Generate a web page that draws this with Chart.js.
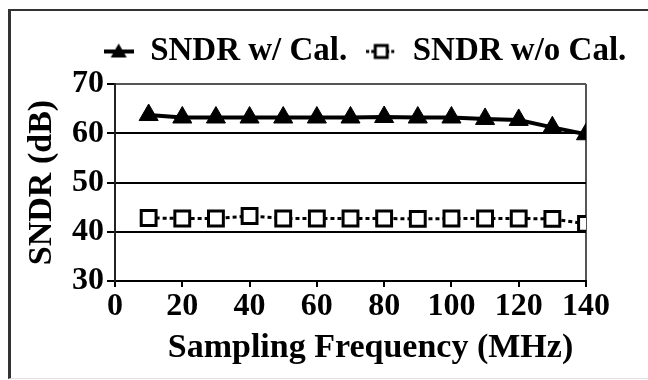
<!DOCTYPE html>
<html>
<head>
<meta charset="utf-8">
<script src="https://cdn.jsdelivr.net/npm/chart.js@4.4.0/dist/chart.umd.min.js"></script>
<style>
  html, body { margin: 0; padding: 0; background: #fff; }
  #wrap { position: relative; width: 648px; height: 380px; overflow: hidden; }
  #frame { position: absolute; left: 8px; top: 9px; right: -10px; bottom: 1px;
           border-top: 2px solid #333; border-left: 3px solid #333; border-bottom: 1px solid #e2e2e2; }
  canvas { position: absolute; left: 0; top: 0; }
</style>
</head>
<body>
<div id="wrap"><div id="frame"></div><canvas id="sndr-chart" width="648" height="380"></canvas></div>
<script>
// values
const frequencies = [10, 20, 30, 40, 50, 60, 70, 80, 90, 100, 110, 120, 130, 140];
const sndrWithCal = [63.7, 63.2, 63.2, 63.2, 63.2, 63.2, 63.2, 63.3, 63.2, 63.2, 62.9, 62.7, 61.2, 59.8];
const sndrWithoutCal = [42.8, 42.7, 42.7, 43.2, 42.7, 42.7, 42.7, 42.7, 42.6, 42.7, 42.7, 42.7, 42.6, 41.6];
const xTicks = [0, 20, 40, 60, 80, 100, 120, 140];
const yTicks = [30, 40, 50, 60, 70];

const FONT = "'Liberation Serif', 'Times New Roman', serif";
const LEGEND_SHIFT = 72;
const LEGEND_HEIGHT = 68;
const X_TITLE_SHIFT = 20;

// small legend icons: marker with a bit of line on both sides
function legendIcon(kind) {
  const c = document.createElement('canvas');
  c.width = 30;
  c.height = 20;
  const g = c.getContext('2d');
  g.strokeStyle = '#000';
  g.fillStyle = '#000';
  g.lineWidth = 4;
  if (kind === 'square') { g.lineWidth = 3; g.setLineDash([3, 2]); }
  g.beginPath();
  g.moveTo(0, 10);
  g.lineTo(30, 10);
  g.stroke();
  g.setLineDash([]);
  if (kind === 'triangle') {
    g.beginPath();
    g.moveTo(15, 2);
    g.lineTo(23, 16);
    g.lineTo(7, 16);
    g.closePath();
    g.fill();
  } else {
    g.fillStyle = '#fff';
    g.lineWidth = 3;
    g.fillRect(9, 4, 12, 12);
    g.strokeRect(9, 4, 12, 12);
  }
  return c;
}

const toPoints = (ys) => ys.map((y, i) => ({ x: frequencies[i], y: y }));

// legend: fixed height, moved right like the original; x title nudged right
const layoutTweak = {
  id: 'layoutTweak',
  beforeInit(chart) {
    const fit = chart.legend.fit;
    chart.legend.fit = function () {
      fit.call(this);
      this.height = LEGEND_HEIGHT;
    };
  },
  afterLayout(chart) {
    chart.legend.left += LEGEND_SHIFT;
    chart.legend.right += LEGEND_SHIFT;
    const xs = chart.scales.x;
    if (!xs._titlePatched) {
      const drawTitle = xs.drawTitle;
      xs.drawTitle = function () {
        this.ctx.save();
        this.ctx.translate(X_TITLE_SHIFT, 0);
        drawTitle.call(this);
        this.ctx.restore();
      };
      xs._titlePatched = true;
    }
  }
};

const ctx = document.getElementById('sndr-chart').getContext('2d');
new Chart(ctx, {
  type: 'line',
  data: {
    datasets: [
      {
        label: 'SNDR w/ Cal.',
        data: toPoints(sndrWithCal),
        borderColor: '#000',
        backgroundColor: '#000',
        borderWidth: 4,
        pointStyle: 'triangle',
        pointRadius: 11,
        pointBorderWidth: 1,
        pointBackgroundColor: '#000',
        pointBorderColor: '#000',
        tension: 0
      },
      {
        label: 'SNDR w/o Cal.',
        data: toPoints(sndrWithoutCal),
        borderColor: '#000',
        backgroundColor: '#fff',
        borderWidth: 3,
        borderDash: [4, 3],
        pointStyle: 'rect',
        pointRadius: 10.5,
        pointBorderWidth: 3,
        pointBackgroundColor: '#fff',
        pointBorderColor: '#000',
        tension: 0
      }
    ]
  },
  options: {
    responsive: false,
    animation: false,
    devicePixelRatio: 1,
    layout: { padding: { left: 0, right: 62, top: 16, bottom: 0 } },
    plugins: {
      tooltip: { enabled: false },
      legend: {
        position: 'top',
        labels: {
          usePointStyle: true,
          pointStyleWidth: 30,
          padding: 19,
          color: '#000',
          font: { family: FONT, size: 33, weight: 'bold' },
          generateLabels: (chart) => chart.data.datasets.map((ds, i) => ({
            text: ds.label,
            pointStyle: legendIcon(i === 0 ? 'triangle' : 'square'),
            fillStyle: '#000',
            strokeStyle: '#000',
            lineWidth: 0,
            fontColor: '#000',
            datasetIndex: i
          }))
        }
      }
    },
    scales: {
      x: {
        type: 'linear',
        min: 0,
        max: 140,
        afterBuildTicks: (s) => { s.ticks = xTicks.map((v) => ({ value: v })); },
        afterFit: (s) => { s.height = 99; },
        border: { display: true, color: '#000', width: 2 },
        grid: {
          drawOnChartArea: true,
          color: (c) => (c.tick && c.tick.value === 140 ? '#555' : 'rgba(0,0,0,0)'),
          lineWidth: 2,
          tickColor: '#000',
          tickLength: 6,
          tickWidth: 2
        },
        ticks: {
          color: '#000',
          padding: 1,
          maxRotation: 0,
          font: { family: FONT, size: 32, weight: 'bold' }
        },
        title: {
          display: true,
          text: 'Sampling Frequency (MHz)',
          color: '#000',
          font: { family: FONT, size: 34, weight: 'bold' },
          padding: { top: 0, bottom: 11 }
        }
      },
      y: {
        min: 30,
        max: 70,
        afterBuildTicks: (s) => { s.ticks = yTicks.map((v) => ({ value: v })); },
        afterFit: (s) => { s.width = 115; },
        border: { display: true, color: '#222', width: 2 },
        grid: {
          color: (c) => {
            if (!c.tick) return '#000';
            if (c.tick.value === 70) return '#555';
            if (c.tick.value === 30) return 'rgba(0,0,0,0)';
            return '#000';
          },
          lineWidth: 2,
          tickColor: '#000',
          tickLength: 8,
          tickWidth: 2
        },
        ticks: {
          color: '#000',
          padding: 3,
          font: { family: FONT, size: 32, weight: 'bold' }
        },
        title: {
          display: true,
          text: 'SNDR (dB)',
          color: '#000',
          font: { family: FONT, size: 34, weight: 'bold' },
          padding: { top: 22, bottom: 0 }
        }
      }
    }
  },
  plugins: [layoutTweak]
});
</script>
</body>
</html>
